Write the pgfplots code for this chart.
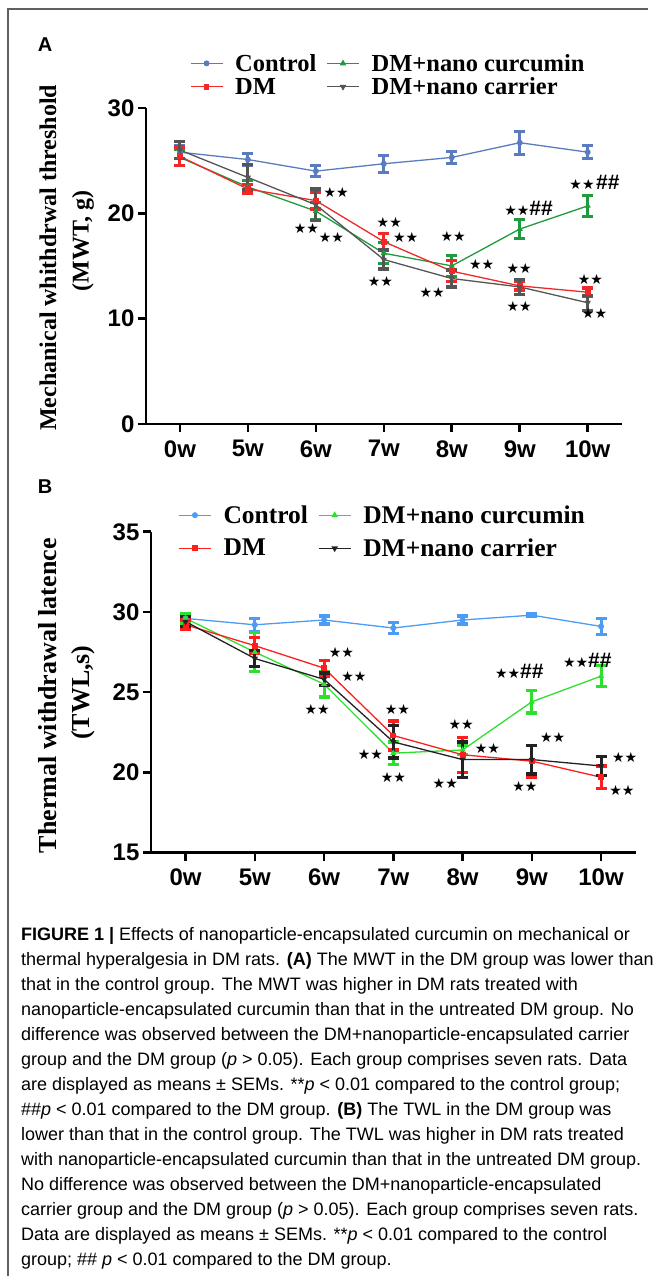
\documentclass[border=0pt]{standalone}
\usepackage{fontspec}
\setmainfont{Liberation Sans}
\newfontfamily\tnr{Liberation Serif}
\newfontfamily\dejavu{DejaVu Sans}
\newfontfamily\capfont{Liberation Sans}
\usepackage{pgfplots}
\usepackage{pgfplotstable}
\pgfplotsset{compat=1.18}

\definecolor{cA}{HTML}{5B7BC0}
\definecolor{rA}{HTML}{F02828}
\definecolor{gA}{HTML}{1E9B3C}
\definecolor{kA}{HTML}{555555}
\definecolor{cB}{HTML}{4C9BF5}
\definecolor{rB}{HTML}{FF1E1E}
\definecolor{gB}{HTML}{2EE02E}
\definecolor{kB}{HTML}{222222}
\definecolor{frame}{HTML}{606060}

% Panel A (MWT)
\pgfplotstableread{
x y e
0 25.8 0.6
1 25.1 0.6
2 24.0 0.5
3 24.7 0.8
4 25.3 0.6
5 26.7 1.1
6 25.8 0.6
}\ACon
\pgfplotstableread{
x y e
0 25.4 0.9
1 22.3 0.4
2 21.2 0.8
3 17.3 0.8
4 14.5 1.0
5 13.1 0.4
6 12.5 0.4
}\ADM
\pgfplotstableread{
x y e
0 25.3 0.8
1 22.5 0.6
2 20.2 0.8
3 16.2 1.0
4 15.0 1.0
5 18.5 0.9
6 20.7 1.0
}\ACur
\pgfplotstableread{
x y e
0 26.0 0.8
1 23.4 1.2
2 20.8 1.5
3 15.6 0.9
4 13.8 0.8
5 13.0 0.7
6 11.5 0.7
}\ACar
% Panel B (TWL)
\pgfplotstableread{
x y e
0 29.6 0.1
1 29.2 0.4
2 29.5 0.25
3 29.0 0.35
4 29.5 0.25
5 29.8 0.1
6 29.1 0.5
}\BCon
\pgfplotstableread{
x y e
0 29.2 0.3
1 27.9 0.5
2 26.5 0.5
3 22.3 0.9
4 21.1 1.1
5 20.7 1.0
6 19.7 0.7
}\BDM
\pgfplotstableread{
x y e
0 29.6 0.3
1 27.5 1.2
2 25.5 0.8
3 21.2 0.7
4 21.4 0.3
5 24.4 0.7
6 26.0 0.65
}\BCur
\pgfplotstableread{
x y e
0 29.4 0.3
1 27.1 0.5
2 25.8 0.4
3 21.9 1.0
4 20.8 1.1
5 20.8 0.9
6 20.4 0.6
}\BCar

\pgfplotsset{
  panel/.style={
    scale only axis, clip=false,
    axis x line*=bottom, axis y line*=left,
    axis line style={line width=2.6pt, -},
    xmin=-0.5, xmax=6.5,
    xtick={0,...,6}, xticklabels={0w,5w,6w,7w,8w,9w,10w},
    tick align=outside, major tick length=8pt,
    every tick/.style={black, line width=2.6pt},
    tick label style={font=\fontsize{24}{26}\selectfont\bfseries},
    xticklabel style={yshift=-5pt},
    /pgf/number format/assume math mode=true,
    legend columns=2,
    legend cell align=left,
    legend image code/.code={\draw[mark repeat=2,mark phase=2] plot coordinates {(0pt,0pt) (16pt,0pt) (32pt,0pt)};},
    legend style={draw=none, fill=none, inner sep=0pt,
      nodes={inner ysep=0pt},
      /tikz/every odd column/.append style={column sep=10pt},
      /tikz/every even column/.append style={column sep=8pt}},
  },
  eb/.style={line width=1.3pt, mark size=2.3pt,
    /pgfplots/error bars/y dir=both,
    /pgfplots/error bars/y explicit,
    /pgfplots/error bars/error mark=|,
    /pgfplots/error bars/error bar style={line width=3pt},
    /pgfplots/error bars/error mark options={line width=3.2pt, mark size=5.5pt}},
}
\newcommand{\st}[1]{{\dejavu\fontsize{14}{14}\selectfont #1}}
\newcommand{\hh}{{\fontsize{21}{21}\selectfont\bfseries\#\#}}

\begin{document}
\begin{tikzpicture}
\path (0pt,0pt) rectangle (648pt,-1277pt);
\draw[frame, line width=1.2pt] (8pt,-1277pt) -- (8pt,-9pt) -- (648pt,-9pt);

% Panel A
\begin{axis}[panel, at={(146pt,-424pt)}, anchor=south west,
  width=476pt, height=316pt, ymin=0, ymax=30, ytick={0,10,20,30},
  legend style={at={(0.092,1.104)}, anchor=west,
    font=\tnr\bfseries\fontsize{24.5}{25}\selectfont,
    /tikz/row sep=5pt}]
\addlegendimage{cA, line width=1.3pt, mark=*, mark size=2.3pt}
\addlegendentry{Control}
\addlegendimage{gA, line width=1.3pt, mark=triangle*, mark size=2.5pt}
\addlegendentry{DM+nano curcumin}
\addlegendimage{rA, line width=1.3pt, mark=square*, mark size=2.3pt}
\addlegendentry{DM}
\addlegendimage{kA, line width=1.3pt, mark=triangle*, mark options={rotate=180}, mark size=2.5pt}
\addlegendentry{DM+nano carrier}
\addplot[eb, cA, mark=*, forget plot] table[x=x,y=y,y error=e]{\ACon};
\addplot[eb, gA, mark=triangle*, forget plot] table[x=x,y=y,y error=e]{\ACur};
\addplot[eb, rA, mark=square*, forget plot] table[x=x,y=y,y error=e]{\ADM};
\addplot[eb, kA, mark=triangle*, mark options={rotate=180}, forget plot] table[x=x,y=y,y error=e]{\ACar};
\node at (axis cs:2.3,22.0) {\st{★★}};
\node at (axis cs:1.86,18.6) {\st{★★}};
\node at (axis cs:2.23,17.7) {\st{★★}};
\node at (axis cs:3.08,19.1) {\st{★★}};
\node at (axis cs:3.32,17.7) {\st{★★}};
\node at (axis cs:2.95,13.5) {\st{★★}};
\node at (axis cs:4.02,17.8) {\st{★★}};
\node at (axis cs:4.44,15.1) {\st{★★}};
\node at (axis cs:3.71,12.5) {\st{★★}};
\node at (axis cs:5.13,20.5) {\st{★★}\hh};
\node at (axis cs:4.99,14.8) {\st{★★}};
\node at (axis cs:4.99,11.1) {\st{★★}};
\node at (axis cs:6.1,22.9) {\st{★★}\,\hh};
\node at (axis cs:6.04,13.7) {\st{★★}};
\node at (axis cs:6.1,10.5) {\st{★★}};
\end{axis}

% Panel B
\begin{axis}[panel, at={(151pt,-853pt)}, anchor=south west,
  width=485pt, height=321pt, ymin=15, ymax=35, ytick={15,20,25,30,35},
  legend style={at={(0.056,1.0)}, anchor=west,
    font=\tnr\bfseries\fontsize{25.5}{26}\selectfont,
    /tikz/row sep=14pt}]
\addlegendimage{cB, line width=1.3pt, mark=*, mark size=2.3pt}
\addlegendentry{Control}
\addlegendimage{gB, line width=1.3pt, mark=triangle*, mark size=2.5pt}
\addlegendentry{DM+nano curcumin}
\addlegendimage{rB, line width=1.3pt, mark=square*, mark size=2.3pt}
\addlegendentry{DM}
\addlegendimage{kB, line width=1.3pt, mark=triangle*, mark options={rotate=180}, mark size=2.5pt}
\addlegendentry{DM+nano carrier}
\addplot[eb, cB, mark=*, forget plot] table[x=x,y=y,y error=e]{\BCon};
\addplot[eb, gB, mark=triangle*, forget plot] table[x=x,y=y,y error=e]{\BCur};
\addplot[eb, rB, mark=square*, forget plot] table[x=x,y=y,y error=e]{\BDM};
\addplot[eb, kB, mark=triangle*, mark options={rotate=180}, forget plot] table[x=x,y=y,y error=e]{\BCar};
\node at (axis cs:2.25,27.5) {\st{★★}};
\node at (axis cs:2.43,26.0) {\st{★★}};
\node at (axis cs:1.9,23.9) {\st{★★}};
\node at (axis cs:3.06,23.9) {\st{★★}};
\node at (axis cs:2.67,21.1) {\st{★★}};
\node at (axis cs:3.0,19.7) {\st{★★}};
\node at (axis cs:3.98,23.0) {\st{★★}};
\node at (axis cs:4.36,21.5) {\st{★★}};
\node at (axis cs:3.75,19.3) {\st{★★}};
\node at (axis cs:4.82,26.3) {\st{★★}\hh};
\node at (axis cs:5.3,22.2) {\st{★★}};
\node at (axis cs:4.9,19.1) {\st{★★}};
\node at (axis cs:5.8,27.0) {\st{★★}\hh};
\node at (axis cs:6.34,20.9) {\st{★★}};
\node at (axis cs:6.3,18.9) {\st{★★}};
\end{axis}

% panel letters
\node[font=\bfseries\fontsize{20}{20}\selectfont] at (45pt,-45pt) {A};
\node[font=\bfseries\fontsize{20}{20}\selectfont] at (45pt,-487pt) {B};

% y labels
\node[rotate=90, font=\tnr\bfseries\fontsize{24}{24}\selectfont] at (48pt,-258pt) {Mechanical whithdrwal threshold};
\node[rotate=90, font=\tnr\bfseries\fontsize{24}{24}\selectfont] at (83pt,-241pt) {(MWT, g)};
\node[rotate=90, font=\tnr\bfseries\fontsize{26}{26}\selectfont] at (48pt,-696pt) {Thermal withdrawal latence};
\node[rotate=90, font=\tnr\bfseries\fontsize{26}{26}\selectfont] at (83pt,-693pt) {(TWL,s)};

% caption
\begin{scope}[every node/.style={anchor=base west, inner sep=0pt, font=\capfont\fontsize{18}{20}\selectfont}]
\node at (21pt,-941pt) {\textbf{FIGURE 1 |} Effects of nanoparticle-encapsulated curcumin on mechanical or};
\node at (21pt,-966pt) {thermal hyperalgesia in DM rats. \textbf{(A)} The MWT in the DM group was lower than};
\node at (21pt,-991pt) {that in the control group. The MWT was higher in DM rats treated with};
\node at (21pt,-1016pt) {nanoparticle-encapsulated curcumin than that in the untreated DM group. No};
\node at (21pt,-1041pt) {difference was observed between the DM+nanoparticle-encapsulated carrier};
\node at (21pt,-1066pt) {group and the DM group (\textit{p} > 0.05). Each group comprises seven rats. Data};
\node at (21pt,-1091pt) {are displayed as means ± SEMs. **\textit{p} < 0.01 compared to the control group;};
\node at (21pt,-1116pt) {\#\#\textit{p} < 0.01 compared to the DM group. \textbf{(B)} The TWL in the DM group was};
\node at (21pt,-1141pt) {lower than that in the control group. The TWL was higher in DM rats treated};
\node at (21pt,-1166pt) {with nanoparticle-encapsulated curcumin than that in the untreated DM group.};
\node at (21pt,-1191pt) {No difference was observed between the DM+nanoparticle-encapsulated};
\node at (21pt,-1216pt) {carrier group and the DM group (\textit{p} > 0.05). Each group comprises seven rats.};
\node at (21pt,-1241pt) {Data are displayed as means ± SEMs. **\textit{p} < 0.01 compared to the control};
\node at (21pt,-1266pt) {group; \#\# \textit{p} < 0.01 compared to the DM group.};
\end{scope}
\end{tikzpicture}
\end{document}
